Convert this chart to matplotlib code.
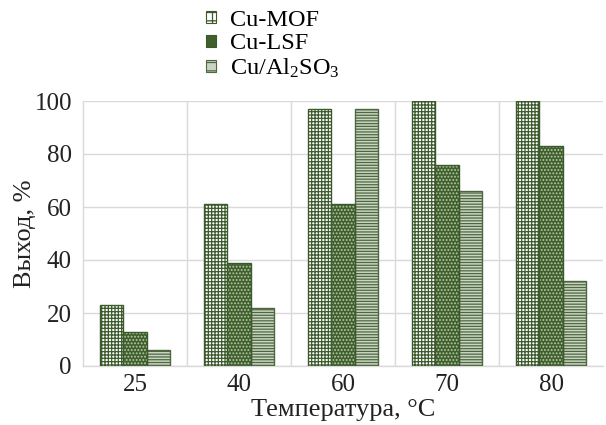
import matplotlib
matplotlib.use("Agg")
import matplotlib.pyplot as plt
import numpy as np
from matplotlib.patches import Patch

plt.rcParams['font.family'] = ['Liberation Serif', 'DejaVu Serif']
plt.rcParams['mathtext.fontset'] = 'custom'
plt.rcParams['mathtext.rm'] = 'Liberation Serif'
plt.rcParams['mathtext.it'] = 'Liberation Serif'
plt.rcParams['hatch.linewidth'] = 0.9

categories = ['25', '40', '60', '70', '80']
series_names = ['Cu-MOF', 'Cu-LSF', 'Cu/Al$_2$SO$_3$']
cu_mof = [23, 61, 97, 100, 100]
cu_lsf = [13, 39, 61, 76, 83]
cu_al = [6, 22, 97, 66, 32]

dark = '#3b5a2c'
lsf_fill = '#3f5f2d'
al_fill = '#c9d5c2'

fig = plt.figure(figsize=(6.06, 4.25), dpi=100)
ax = fig.add_axes([83/606, 1-366/425, 520/606, 265/425])

x = np.arange(len(categories))
w = 0.225

# Cu-MOF
ax.bar(x - w, cu_mof, w, facecolor='white', edgecolor=dark, hatch='+++++', linewidth=1.0, zorder=3)
# Cu-LSF: dark fill with light dots, then outline
ax.bar(x, cu_lsf, w, facecolor=lsf_fill, edgecolor='#b8c9a8', hatch='.....', linewidth=0, zorder=3)
ax.bar(x, cu_lsf, w, facecolor='none', edgecolor=dark, linewidth=1.0, zorder=4)
# Cu/Al2SO3
ax.bar(x + w, cu_al, w, facecolor=al_fill, edgecolor='#4d6840', hatch='------', linewidth=1.0, zorder=3)

ax.set_xlim(-0.5, len(categories) - 0.5)
ax.set_ylim(0, 100)
ax.set_yticks([0, 20, 40, 60, 80, 100])
ax.set_xticks(x)
ax.set_xticklabels(categories)
ax.set_xticks(x[:-1] + 0.5, minor=True)
ax.grid(axis='y', color='#d9d9d9', linewidth=1.0, zorder=0)
ax.grid(axis='x', which='minor', color='#d9d9d9', linewidth=1.0, zorder=0)
ax.tick_params(axis='both', which='both', length=0, labelsize=18, colors='#222222')
ax.tick_params(axis='x', pad=6)
ax.tick_params(axis='y', pad=8)
for s in ['top', 'right']:
    ax.spines[s].set_visible(False)
for s in ['left', 'bottom']:
    ax.spines[s].set_color('#d9d9d9')
    ax.spines[s].set_linewidth(1.0)

ax.set_ylabel('Выход, %', fontsize=19, color='#222222', labelpad=-1)
ax.set_xlabel('Температура, °C', fontsize=19, color='#222222', labelpad=2)

handles = [
    Patch(facecolor='white', edgecolor=dark, hatch='++', linewidth=0.8),
    Patch(facecolor=lsf_fill, edgecolor=dark, linewidth=0.8),
    Patch(facecolor=al_fill, edgecolor='#4d6840', hatch='--', linewidth=0.8),
]
fig.legend(handles, series_names, loc='upper left', bbox_to_anchor=(194/606, 1.005),
           frameon=False, fontsize=17.5, handlelength=0.4, handleheight=0.4,
           handletextpad=0.6, labelspacing=0.1, borderpad=0.0)

fig.savefig('out.png', dpi=100)
